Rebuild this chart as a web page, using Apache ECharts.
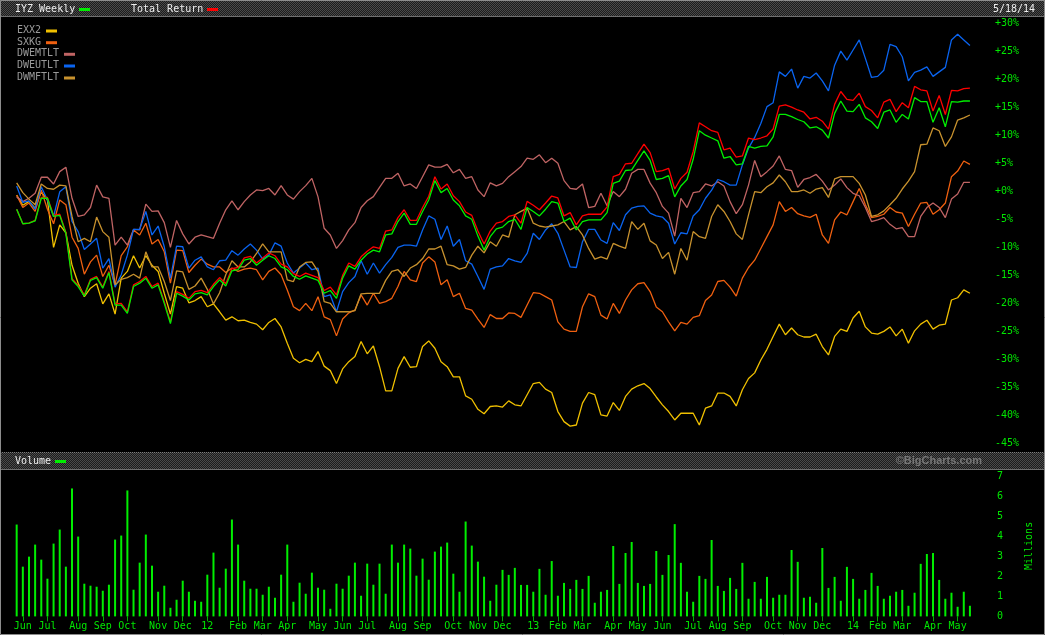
<!DOCTYPE html>
<html><head><meta charset="utf-8">
<script src="https://cdn.jsdelivr.net/npm/echarts@6/dist/echarts.min.js"></script>
<style>html,body{margin:0;padding:0;background:#000;overflow:hidden}#c{width:1045px;height:635px}</style>
</head><body><div id="c"></div>
<script>
// ---- data (weekly, first week starting Mon 2011-05-23, 156 weeks) ----
const firstWeek = '2011-05-23';
const weekCount = 156;
const monthNames = ['Jan','Feb','Mar','Apr','May','Jun','Jul','Aug','Sep','Oct','Nov','Dec'];
const pctTicks = [-45,-40,-35,-30,-25,-20,-15,-10,-5,0,5,10,15,20,25,30];
const volTicks = [0,1,2,3,4,5,6,7];

const iyz = [-3.2,-5.8,-5.7,-5.3,-1.25,-1.25,-4.5,-4.3,-7.5,-15.8,
-17.0,-18.7,-15.9,-15.4,-17.3,-14.5,-20.3,-20.3,-21.8,-17.0,
-16.4,-15.5,-17.3,-16.7,-20.0,-23.6,-18.2,-18.7,-19.4,-18.3,
-18.1,-18.5,-17.0,-15.8,-16.9,-14.2,-14.0,-12.3,-12.0,-13.2,
-12.3,-11.5,-12.0,-13.5,-14.0,-15.2,-15.7,-15.1,-15.5,-15.9,
-18.2,-17.7,-19.1,-15.5,-13.3,-13.9,-12.3,-11.2,-10.5,-10.8,
-7.8,-7.6,-5.4,-3.9,-5.9,-5.9,-3.6,-1.55,1.9,-0.25,
0.5,-1.55,-2.6,-4.4,-5.0,-8.0,-10.5,-8.1,-6.7,-6.4,
-5.4,-5.0,-6.8,-2.9,-3.6,-4.4,-3.2,-1.85,-2.1,-5.4,
-4.8,-6.9,-5.4,-5.1,-5.1,-5.1,-3.8,1.4,1.8,3.7,
3.8,5.5,7.2,5.5,2.1,2.3,2.8,-1.0,0.95,2.1,
5.7,10.8,10.0,9.5,9.0,5.9,6.2,4.7,4.9,8.0,
7.7,8.0,8.1,9.7,13.7,13.7,13.3,12.8,12.4,11.3,
11.5,10.9,9.5,13.9,16.1,14.3,14.2,15.5,13.1,12.4,
11.2,14.1,14.5,12.3,13.7,12.9,16.7,16.0,16.0,12.3,
14.9,11.5,16.0,15.9,16.1,16.1];

const totalReturn = [-3.2,-5.8,-5.7,-5.2,-1.1,-1.1,-4.3,-4.1,-7.3,-15.6,
-16.8,-18.5,-15.7,-15.2,-17.1,-14.3,-20.1,-20.0,-21.5,-16.7,
-16.1,-15.2,-17.0,-16.4,-19.7,-23.3,-17.9,-18.4,-19.1,-17.9,
-17.7,-18.1,-16.6,-15.4,-16.5,-13.8,-13.6,-11.9,-11.6,-12.8,
-11.9,-11.0,-11.5,-13.0,-13.5,-14.7,-15.2,-14.6,-15.0,-15.4,
-17.7,-17.1,-18.5,-15.0,-12.8,-13.4,-11.7,-10.7,-9.9,-10.2,
-7.1,-6.9,-4.7,-3.3,-5.2,-5.2,-2.9,-0.9,2.6,0.4,
1.3,-0.8,-1.85,-3.7,-4.3,-7.1,-9.4,-7.1,-5.7,-5.4,
-4.5,-4.2,-5.7,-1.8,-2.5,-3.3,-2.1,-0.85,-1.2,-4.4,
-3.8,-6.0,-4.4,-4.1,-4.1,-4.1,-2.8,2.6,3.0,4.9,
5.0,6.7,8.4,6.9,3.5,3.7,4.1,0.4,2.3,3.4,
7.1,12.2,11.5,10.8,10.5,7.4,7.7,6.1,6.3,9.5,
9.2,9.5,9.9,11.1,15.2,15.4,15.0,14.5,14.1,12.9,
13.2,12.5,11.1,15.5,17.8,16.4,16.2,17.5,15.1,14.4,
13.1,15.9,16.4,14.2,15.8,14.9,18.7,18.1,17.9,14.3,
17.1,13.7,18.0,17.9,18.3,18.4];

const exx2 = [-0.7,-2.5,-1.8,-3.0,-0.1,-1.55,-10.0,-6.0,-7.4,-13.2,
-16.4,-18.8,-17.3,-16.5,-20.1,-18.3,-21.9,-15.5,-14.3,-11.5,
-13.7,-11.5,-13.2,-14.3,-18.2,-21.9,-17.0,-17.3,-19.9,-19.5,
-18.8,-20.6,-20.1,-21.5,-23.0,-22.4,-23.1,-23.0,-23.4,-23.7,
-24.7,-23.4,-22.7,-24.2,-27.1,-29.8,-30.6,-30.0,-30.4,-28.6,
-31.2,-32.0,-34.3,-31.7,-30.4,-29.5,-26.8,-29.0,-27.6,-31.3,
-35.6,-35.6,-31.6,-29.5,-31.4,-31.3,-27.7,-26.7,-28.0,-30.4,
-31.3,-33.1,-33.1,-36.5,-37.1,-38.9,-39.7,-38.4,-38.3,-38.5,
-37.4,-38.1,-38.3,-36.3,-34.3,-34.1,-35.3,-35.9,-39.3,-41.1,
-41.9,-41.7,-37.8,-35.9,-36.3,-39.9,-40.1,-37.7,-39.1,-36.6,
-35.3,-34.7,-34.3,-35.2,-36.7,-38.1,-39.3,-40.8,-39.6,-39.6,
-39.6,-41.7,-38.7,-38.3,-36.0,-36.0,-36.6,-38.3,-35.4,-33.4,
-32.4,-30.1,-28.2,-25.9,-23.7,-25.6,-24.4,-25.6,-26.0,-26.0,
-25.5,-27.7,-29.2,-25.9,-24.6,-25.0,-22.6,-21.4,-24.2,-25.3,
-25.5,-25.0,-24.2,-25.8,-24.6,-27.1,-24.9,-23.7,-23.0,-24.6,
-23.9,-23.7,-19.4,-19.0,-17.6,-18.2];

const sxkg = [-0.7,-2.9,-2.1,-3.6,0.2,-3.2,-5.8,-1.55,-2.4,-8.2,
-10.2,-14.8,-12.6,-11.4,-15.2,-13.2,-16.7,-11.5,-9.9,-6.9,
-7.8,-5.7,-9.4,-8.6,-10.8,-16.4,-10.5,-10.6,-14.5,-13.2,
-12.1,-13.0,-13.5,-13.5,-14.5,-13.7,-14.3,-13.9,-13.7,-14.0,
-15.8,-14.3,-13.7,-14.9,-17.6,-20.6,-21.3,-20.0,-21.3,-18.8,
-22.4,-22.9,-25.8,-22.8,-21.7,-21.2,-18.5,-20.3,-18.2,-20.0,
-19.7,-19.1,-17.0,-14.3,-15.8,-16.1,-12.8,-11.7,-12.6,-16.7,
-15.8,-18.8,-18.2,-20.9,-21.2,-22.8,-24.3,-22.0,-22.7,-22.7,
-21.7,-21.8,-22.5,-20.3,-18.1,-18.2,-18.8,-19.4,-23.3,-24.6,
-25.0,-25.0,-20.6,-18.3,-18.8,-22.1,-22.8,-20.0,-21.8,-19.4,
-17.6,-16.5,-16.3,-17.9,-20.65,-21.5,-23.3,-24.9,-23.4,-23.7,
-22.5,-22.2,-19.5,-18.5,-16.1,-15.9,-17.1,-18.7,-15.5,-13.6,
-12.3,-10.2,-8.1,-6.0,-1.85,-3.6,-2.9,-4.0,-4.4,-4.65,
-4.1,-7.8,-9.3,-5.1,-3.7,-4.2,-1.85,0.5,-2.4,-4.7,
-4.5,-4.1,-2.9,-3.7,-3.9,-6.3,-4.1,-2.1,-2.0,-4.1,
-3.3,-2.1,2.6,3.6,5.4,4.8];

const dwemtlt = [-1.0,-1.85,-1.25,-0.36,2.5,2.5,1.3,3.5,4.3,-1.25,
-4.5,-4.2,-2.9,1.1,-1.0,-1.25,-9.6,-8.2,-9.6,-6.8,
-6.9,-2.3,-3.6,-3.5,-5.6,-10.0,-5.2,-7.6,-9.4,-8.2,
-7.8,-8.1,-8.4,-5.7,-3.3,-1.7,-3.3,-1.85,-0.66,0.23,
0.1,0.5,-0.66,1.0,-0.66,-1.4,-0.06,1.0,2.3,-1.0,
-6.6,-7.8,-10.2,-8.8,-6.9,-5.6,-2.9,-1.7,-0.96,0.7,
2.3,2.3,3.2,0.95,1.3,0.5,2.6,4.7,4.3,4.3,
4.8,3.3,3.9,2.3,2.6,0.23,-0.96,1.5,0.95,1.4,
2.6,3.5,4.4,5.9,5.7,6.5,5.1,5.9,5.0,1.9,
0.5,0.36,1.3,-2.9,-2.7,-0.36,-2.6,-0.06,-0.96,0.36,
3.2,3.9,3.9,1.45,-0.25,-2.7,-3.9,-8.0,-1.25,-2.9,
-0.25,-0.06,1.3,0.95,1.7,0.95,-1.85,-4.0,-2.4,1.1,
5.5,2.6,3.5,4.5,6.3,3.9,3.7,0.7,2.1,2.45,
3.0,1.8,0.23,1.1,2.2,0.65,-0.36,-0.8,-2.9,-5.4,
-5.1,-4.7,-5.9,-6.7,-6.5,-8.1,-8.1,-4.5,-2.9,-2.1,
-2.9,-4.7,-1.4,-0.5,1.6,1.6];

const dweutlt = [0.95,-2.0,-1.7,-3.2,0.8,-1.55,-4.5,-0.1,0.8,-5.4,
-7.2,-10.4,-9.4,-8.4,-13.7,-12.0,-17.1,-14.9,-11.4,-6.8,
-6.8,-3.6,-7.8,-6.2,-9.9,-15.5,-9.8,-9.9,-13.7,-12.3,
-11.7,-13.5,-14.0,-12.4,-12.3,-10.6,-11.4,-10.3,-9.4,-10.5,
-12.1,-11.4,-9.2,-9.8,-12.8,-14.6,-13.7,-12.8,-14.0,-13.7,
-18.8,-18.5,-21.5,-17.9,-16.3,-15.2,-12.4,-14.8,-12.8,-14.6,
-13.1,-11.8,-10.0,-9.6,-9.6,-9.8,-6.9,-4.4,-5.0,-8.6,
-6.2,-9.8,-8.6,-12.4,-13.0,-15.2,-17.5,-13.9,-13.5,-13.3,
-12.0,-12.4,-12.7,-11.1,-7.5,-8.6,-6.9,-5.8,-7.5,-10.5,
-13.5,-13.6,-9.0,-6.8,-6.8,-8.7,-9.3,-5.6,-7.0,-4.2,
-3.0,-2.7,-2.6,-3.9,-4.4,-4.6,-5.7,-9.4,-7.4,-7.6,
-4.4,-3.3,-1.25,0.2,2.1,1.7,1.1,1.1,4.7,7.7,
9.6,12.1,15.1,15.8,21.3,20.5,21.8,18.4,20.5,20.2,
21.1,19.7,17.9,22.5,25.0,23.4,25.2,27.0,23.7,20.3,
20.5,21.6,26.2,25.8,24.0,19.7,21.2,21.6,22.2,20.5,
21.3,22.1,27.0,28.0,27.0,26.0];

const dwmftlt = [1.5,-0.25,-1.4,-2.4,1.3,0.5,0.36,1.1,0.95,-4.5,
-9.0,-8.4,-9.0,-4.6,-7.2,-8.2,-16.7,-15.7,-15.4,-14.8,
-15.5,-10.8,-13.5,-13.5,-16.1,-19.5,-14.2,-14.4,-17.5,-16.9,
-15.5,-17.5,-20.1,-18.1,-14.9,-12.4,-13.5,-13.5,-12.6,-11.1,
-9.4,-10.8,-10.8,-10.8,-15.8,-16.1,-13.5,-12.7,-12.6,-14.3,
-19.7,-20.0,-21.5,-21.5,-21.5,-21.3,-18.3,-18.2,-18.2,-18.2,
-15.9,-14.3,-14.0,-15.2,-13.7,-13.1,-12.0,-10.3,-10.3,-9.8,
-13.1,-13.3,-13.9,-13.6,-11.4,-9.8,-11.0,-9.0,-9.8,-7.8,
-8.2,-4.2,-3.6,-3.0,-5.7,-6.2,-6.4,-6.2,-6.0,-5.4,
-6.9,-6.3,-7.8,-10.2,-12.1,-11.7,-12.1,-9.3,-9.8,-10.2,
-5.4,-6.8,-5.7,-8.85,-9.6,-12.0,-10.9,-14.8,-10.2,-12.3,
-7.2,-8.1,-8.4,-4.5,-2.4,-3.6,-5.4,-7.6,-8.6,-4.2,
-0.06,-0.25,0.8,1.5,2.9,1.7,-0.06,-0.06,0.23,-0.36,
0.4,0.65,-1.1,2.2,2.6,2.6,2.6,1.4,-0.66,-4.5,
-4.2,-3.5,-2.4,-1.25,0.4,1.8,3.5,8.3,8.4,11.3,
10.8,8.0,9.7,12.7,13.1,13.6];

const volume = [4.58,2.48,2.98,3.58,2.83,1.88,3.63,4.33,2.48,6.38,
3.98,1.63,1.53,1.48,1.28,1.58,3.83,4.03,6.28,1.33,
2.68,4.08,2.53,1.23,1.53,0.43,0.83,1.78,1.23,0.78,
0.73,2.08,3.18,1.43,2.38,4.83,3.58,1.78,1.38,1.38,
1.08,1.48,0.93,2.08,3.58,0.73,1.68,1.13,2.18,1.43,
1.33,0.38,1.63,1.38,2.03,2.68,1.03,2.63,1.58,2.63,
1.13,3.58,2.68,3.58,3.38,2.03,2.88,1.83,3.23,3.48,
3.68,2.13,1.23,4.73,3.53,2.73,1.98,0.78,1.58,2.32,
2.07,2.42,1.57,1.57,1.23,2.37,1.08,2.76,1.03,1.67,
1.37,1.82,1.37,2.02,0.68,1.23,1.32,3.51,1.62,3.16,
3.71,1.67,1.52,1.62,3.26,2.07,3.06,4.6,2.67,1.23,
0.73,2.02,1.87,3.81,1.52,1.27,1.92,1.37,2.67,0.88,
1.72,0.88,1.97,0.93,1.08,1.08,3.31,2.72,0.93,0.98,
0.68,3.41,1.42,1.97,0.78,2.47,1.87,0.88,1.32,2.17,
1.52,0.88,1.03,1.23,1.32,0.53,1.18,2.62,3.11,3.16,
1.82,0.88,1.18,0.48,1.23,0.53];

// ---- build weekly categories & month markers ----
const DAY = 86400000;
const t0 = Date.parse(firstWeek + 'T00:00:00Z');
const weeks = [], monthMark = [];
for (let i = 0; i < weekCount; i++) {
  const d0 = t0 + i * 7 * DAY;
  weeks.push(new Date(d0).toISOString().slice(0, 10));
  let mark = null;
  for (let k = 0; k < 7; k++) {
    const d = new Date(d0 + k * DAY);
    if (d.getUTCDate() === 1) {
      const m = d.getUTCMonth();
      mark = m === 0 ? String(d.getUTCFullYear()).slice(2) : monthNames[m];
    }
  }
  monthMark.push(mark);
}

const GREEN = '#00e800';
const FONT = '"DejaVu Sans Mono", monospace';

// checkered pattern for header bars
const pc = document.createElement('canvas');
pc.width = 2; pc.height = 2;
const px = pc.getContext('2d');
px.fillStyle = '#1c1c1c'; px.fillRect(0, 0, 2, 2);
px.fillStyle = '#4a4a4a'; px.fillRect(0, 0, 1, 1); px.fillRect(1, 1, 1, 1);
const pattern = { image: pc, repeat: 'repeat' };

const gridLeft = 13.6, gridWidth = 959.4;
const chart = echarts.init(document.getElementById('c'), null, { renderer: 'canvas' });

function lineSeries(name, data, color, z) {
  return { name, type: 'line', xAxisIndex: 0, yAxisIndex: 0, data, symbol: 'none',
    lineStyle: { color, width: 1.3 }, itemStyle: { color }, z, silent: true };
}

function legendItem(label, color, y, swX) {
  return [
    { type: 'text', left: 17, top: y - 5.5, style: { text: label, fill: '#9a9a9a', font: '10px ' + FONT } },
    { type: 'rect', shape: { x: swX, y: y - 1.5, width: 11, height: 3 }, style: { fill: color } }
  ];
}

chart.setOption({
  backgroundColor: '#000',
  animation: false,
  grid: [
    { left: gridLeft, top: 23.1, width: gridWidth, height: 420.4 },
    { left: gridLeft, top: 476, width: gridWidth, height: 140.4 }
  ],
  xAxis: [
    { type: 'category', gridIndex: 0, data: weeks, boundaryGap: true, show: false },
    { type: 'category', gridIndex: 1, data: weeks, boundaryGap: true,
      axisLine: { show: false },
      axisTick: { show: true, alignWithLabel: true, length: 5, interval: (i) => monthMark[i] !== null,
        lineStyle: { color: '#00b000' } },
      axisLabel: { interval: (i) => monthMark[i] !== null, formatter: (v, i) => monthMark[i] || '',
        color: GREEN, fontFamily: FONT, fontSize: 10, margin: 5 } }
  ],
  yAxis: [
    { type: 'value', gridIndex: 0, position: 'right', min: pctTicks[0], max: pctTicks[pctTicks.length - 1], interval: 5,
      splitLine: { show: false }, axisLine: { show: false }, axisTick: { show: false },
      axisLabel: { align: 'left', margin: 22, color: GREEN, fontFamily: FONT, fontSize: 10,
        formatter: (v) => (v >= 0 ? '+' : '') + v + '%' } },
    { type: 'value', gridIndex: 1, position: 'right', min: volTicks[0], max: volTicks[volTicks.length - 1], interval: 1,
      splitLine: { show: false }, axisLine: { show: false }, axisTick: { show: false },
      axisLabel: { align: 'left', margin: 24, color: GREEN, fontFamily: FONT, fontSize: 10 } }
  ],
  series: [
    lineSeries('EXX2', exx2, '#f0c000', 2),
    lineSeries('SXKG', sxkg, '#f06010', 2),
    lineSeries('DWEMTLT', dwemtlt, '#c06464', 2),
    lineSeries('DWEUTLT', dweutlt, '#0a64f0', 2),
    lineSeries('DWMFTLT', dwmftlt, '#c8922e', 2),
    lineSeries('Total Return', totalReturn, '#ff0000', 3),
    lineSeries('IYZ Weekly', iyz, '#00ee00', 4),
    { name: 'Volume', type: 'bar', xAxisIndex: 1, yAxisIndex: 1, data: volume, barWidth: 2,
      itemStyle: { color: '#00ee00' }, silent: true }
  ],
  graphic: [
    // header bar
    { type: 'rect', shape: { x: 0, y: 0, width: 1045, height: 17 }, style: { fill: pattern }, z: -1 },
    { type: 'line', shape: { x1: 0, y1: 16.5, x2: 1045, y2: 16.5 }, style: { stroke: '#707070', lineWidth: 1 } },
    { type: 'text', left: 15, top: 4, style: { text: 'IYZ Weekly', fill: '#eeeeee', font: '10px ' + FONT } },
    { type: 'rect', shape: { x: 79, y: 8, width: 11, height: 3 }, style: { fill: '#00ee00' } },
    { type: 'text', left: 131, top: 4, style: { text: 'Total Return', fill: '#eeeeee', font: '10px ' + FONT } },
    { type: 'rect', shape: { x: 207, y: 8, width: 11, height: 3 }, style: { fill: '#ff0000' } },
    { type: 'text', left: 993, top: 4, style: { text: '5/18/14', fill: '#eeeeee', font: '10px ' + FONT } },
    // chart legend
    ...legendItem('EXX2', '#f0c000', 31, 46),
    ...legendItem('SXKG', '#f06010', 42.7, 46),
    ...legendItem('DWEMTLT', '#c06464', 54.3, 64),
    ...legendItem('DWEUTLT', '#0a64f0', 66, 64),
    ...legendItem('DWMFTLT', '#c8922e', 78, 64),
    // volume separator bar
    { type: 'rect', shape: { x: 0, y: 452, width: 1045, height: 17 }, style: { fill: pattern }, z: -1 },
    { type: 'line', shape: { x1: 0, y1: 452.5, x2: 1045, y2: 452.5 }, style: { stroke: '#808080', lineWidth: 1, lineDash: [1, 1] } },
    { type: 'line', shape: { x1: 0, y1: 469.5, x2: 1045, y2: 469.5 }, style: { stroke: '#707070', lineWidth: 1 } },
    { type: 'text', left: 15, top: 456, style: { text: 'Volume', fill: '#eeeeee', font: '10px ' + FONT } },
    { type: 'rect', shape: { x: 55, y: 460, width: 11, height: 3 }, style: { fill: '#00ee00' } },
    { type: 'text', right: 63, top: 455, style: { text: '\u00A9BigCharts.com', fill: '#777777', font: 'bold 11px "Liberation Sans", Arial, sans-serif' } },
    { type: 'text', x: 1024, y: 570, rotation: Math.PI / 2,
      style: { text: 'Millions', fill: GREEN, font: '10px ' + FONT } },
    // outer frame
    { type: 'rect', shape: { x: 0.5, y: 0.5, width: 1044, height: 634 }, style: { fill: 'none', stroke: '#8c8c8c', lineWidth: 1 }, z: 100 }
  ]
});
</script></body></html>
